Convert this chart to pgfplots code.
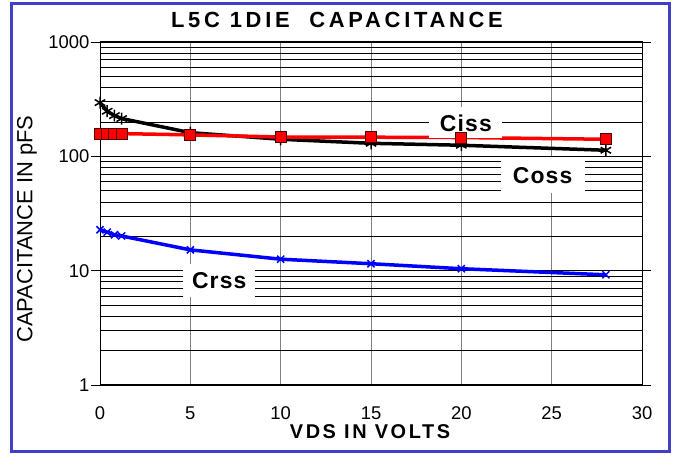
\documentclass[border=0pt]{standalone}
\usepackage{fontspec}
\setmainfont{Liberation Sans}
\usepackage{pgfplots}
\pgfplotsset{compat=1.18}
\definecolor{bordercol}{RGB}{64,64,200}
\definecolor{gridgray}{RGB}{128,128,128}
\begin{document}
\begin{tikzpicture}[x=1bp,y=1bp]
\useasboundingbox (0,0) rectangle (677,455);
\fill[white] (0,0) rectangle (677,455);
\draw[line width=3bp, draw=bordercol] (11.5,3.5) rectangle (669,451.5);
\begin{axis}[
  at={(100bp,70bp)}, anchor=south west,
  scale only axis, width=542bp, height=343bp,
  ymode=log, xmin=0, xmax=30, ymin=1, ymax=1000,
  xtick={0,5,10,15,20,25,30}, xticklabels={0,5,10,15,20,25,30},
  ytick={1,10,100,1000}, yticklabels={1,10,100,1000},
  minor ytick={2,3,4,5,6,7,8,9,20,30,40,50,60,70,80,90,200,300,400,500,600,700,800,900},
  xmajorgrids, ymajorgrids, yminorgrids,
  major x grid style={gridgray, line width=1bp},
  major y grid style={black, line width=0.9bp},
  minor y grid style={black, line width=0.6bp},
  tick align=outside, major tick length=9bp, minor tick length=0pt,
  xtick style={draw=none},
  ytick style={black, line width=0.8bp},
  axis line style={black, line width=1bp},
  ticklabel style={font=\fontsize{18.5}{20}\selectfont},
  yticklabel style={inner sep=1.5bp},
  xticklabel style={yshift=-9bp},
  clip=false,
]
\addplot[black, line width=3.5bp, mark=asterisk, mark size=6bp,
  mark options={line width=1.5bp, black}]
  coordinates {(0,295) (0.4,248) (0.8,227) (1.2,214) (5,161) (10,141) (15,130) (20,125) (28,113)};
\addplot[red, line width=3.5bp, mark=square*, mark size=5.5bp,
  mark options={line width=1bp, draw=black!70!red, fill=red}]
  coordinates {(0,158) (0.4,158) (0.8,158) (1.2,158) (5,154) (10,147.5) (15,147) (20,146) (28,141)};
\addplot[blue, line width=3.5bp, mark=x, mark size=5bp,
  mark options={line width=1.5bp, blue}]
  coordinates {(0,22.8) (0.4,21.7) (0.8,20.6) (1.2,20.1) (5,15.2) (10,12.6) (15,11.5) (20,10.4) (28,9.2)};
\node[fill=white, minimum width=73bp, minimum height=31bp, inner sep=0pt,
  font=\bfseries\fontsize{23}{25}\selectfont\addfontfeature{LetterSpace=5}]
  at (axis cs:20.25,196) {Ciss};
\node[fill=white, minimum width=84bp, minimum height=36bp, inner sep=0pt,
  font=\bfseries\fontsize{23}{25}\selectfont\addfontfeature{LetterSpace=5}]
  at (axis cs:24.5,68) {Coss};
\node[fill=white, minimum width=72bp, minimum height=33bp, inner sep=0pt,
  font=\bfseries\fontsize{23}{25}\selectfont\addfontfeature{LetterSpace=5}]
  at (axis cs:6.6,8.18) {Crss};
\end{axis}
\node[font=\bfseries\fontsize{22}{24}\selectfont\addfontfeature{LetterSpace=17}]
  at (337,435) {L5C 1DIE\ \ CAPACITANCE};
\node[font=\bfseries\fontsize{20}{22}\selectfont\addfontfeature{LetterSpace=13}]
  at (370,23) {VDS IN VOLTS};
\node[rotate=90, font=\fontsize{22}{24}\selectfont]
  at (27,226) {CAPACITANCE IN pFS};
\end{tikzpicture}
\end{document}
